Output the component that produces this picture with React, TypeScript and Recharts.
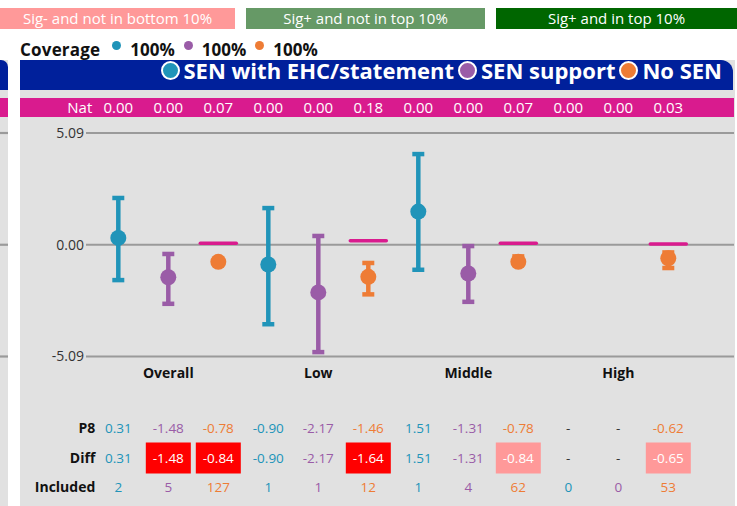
import React from 'react';
import { ComposedChart, Scatter, ErrorBar, XAxis, YAxis, CartesianGrid } from 'recharts';

// ---------- data ----------
const categories = ['Overall', 'Low', 'Middle', 'High'];
const seriesNames = ['SEN with EHC/statement', 'SEN support', 'No SEN'];
const seriesColors = ['#2094b9', '#9a5ca7', '#ee7c35'];
const coverage = ['100%', '100%', '100%'];
const bandLabels = ['Sig- and not in bottom 10%', 'Sig+ and not in top 10%', 'Sig+ and in top 10%'];
const bandColors = ['#ff9999', '#669966', '#006600'];
const yTicks = [-5.09, 0, 5.09];

const p8EHC = [0.31, -0.9, 1.51, null];
const p8Support = [-1.48, -2.17, -1.31, null];
const p8NoSEN = [-0.78, -1.46, -0.78, -0.62];

const diffEHC = [0.31, -0.9, 1.51, null];
const diffSupport = [-1.48, -2.17, -1.31, null];
const diffNoSEN = [-0.84, -1.64, -0.84, -0.65];

const lowEHC = [-1.61, -3.62, -1.14, null];
const highEHC = [2.13, 1.67, 4.13, null];
const lowSupport = [-2.69, -4.89, -2.6, null];
const highSupport = [-0.42, 0.4, -0.06, null];
const lowNoSEN = [-0.88, -2.26, -0.9, -1.06];
const highNoSEN = [-0.68, -0.83, -0.53, -0.35];

const includedEHC = [2, 1, 1, 0];
const includedSupport = [5, 1, 4, 0];
const includedNoSEN = [127, 12, 62, 53];

// 'red' = Sig- and in bottom 10%, 'pink' = Sig- and not in bottom 10%
const diffBandEHC = [null, null, null, null];
const diffBandSupport = ['red', null, null, null];
const diffBandNoSEN = ['red', 'red', 'pink', 'pink'];

const natValues = [0.0, 0.0, 0.07, 0.0, 0.0, 0.18, 0.0, 0.0, 0.07, 0.0, 0.0, 0.03];

// ---------- build table ----------
const p8s = [p8EHC, p8Support, p8NoSEN];
const diffs = [diffEHC, diffSupport, diffNoSEN];
const lows = [lowEHC, lowSupport, lowNoSEN];
const highs = [highEHC, highSupport, highNoSEN];
const includeds = [includedEHC, includedSupport, includedNoSEN];
const bands = [diffBandEHC, diffBandSupport, diffBandNoSEN];

type Row = {
  slot: number; group: number; series: number; p8: number | null; diff: number | null;
  lo: number | null; hi: number | null; included: number; nat: number; band: string | null;
};
const rows: Row[] = [];
categories.forEach((_, g) => {
  seriesNames.forEach((__, s) => {
    const slot = g * 3 + s;
    rows.push({
      slot, group: g, series: s,
      p8: p8s[s][g], diff: diffs[s][g], lo: lows[s][g], hi: highs[s][g],
      included: includeds[s][g], nat: natValues[slot], band: bands[s][g],
    });
  });
});

const FONT = '"Open Sans", "Noto Sans", sans-serif';
const PANEL_GRAY = '#e1e1e1';
const HEADER_BLUE = '#00209b';
const MAGENTA = '#d91b8e';
const ROW_Y = { nat: 107.5, cat: 373, p8: 428, diff: 458, incl: 487 };

const fmt = (v: number | null) => (v == null ? '-' : v.toFixed(2));

const SlotTick = (props: any) => {
  const { x, payload } = props;
  const r = rows[payload.value];
  if (!r) return null;
  const col = seriesColors[r.series];
  const bandFill = r.band === 'red' ? '#ff0000' : r.band === 'pink' ? '#ff9999' : null;
  const nullCol = '#333';
  return (
    <g fontFamily={FONT}>
      {r.slot === 0 && (
        <g>
          <text x={x - 26} y={ROW_Y.nat} dy="0.35em" textAnchor="end" fontSize={15} fill="#fff">Nat</text>
          <text x={x - 23} y={ROW_Y.p8} dy="0.35em" textAnchor="end" fontSize={14} fontWeight={700} fill="#111">P8</text>
          <text x={x - 23} y={ROW_Y.diff} dy="0.35em" textAnchor="end" fontSize={14} fontWeight={700} fill="#111">Diff</text>
          <text x={x - 23} y={ROW_Y.incl} dy="0.35em" textAnchor="end" fontSize={14} fontWeight={700} fill="#111">Included</text>
        </g>
      )}
      <text x={x} y={ROW_Y.nat} dy="0.35em" textAnchor="middle" fontSize={15} fill="#fff">{r.nat.toFixed(2)}</text>
      {r.series === 1 && (
        <text x={x} y={ROW_Y.cat} dy="0.35em" textAnchor="middle" fontSize={14} fontWeight={700} fill="#111">
          {categories[r.group]}
        </text>
      )}
      <text x={x} y={ROW_Y.p8} dy="0.35em" textAnchor="middle" fontSize={13.5} fill={r.p8 == null ? nullCol : col}>{fmt(r.p8)}</text>
      {bandFill && <rect x={x - 22.5} y={ROW_Y.diff - 15.5} width={45} height={31} fill={bandFill} />}
      <text x={x} y={ROW_Y.diff} dy="0.35em" textAnchor="middle" fontSize={13.5}
        fill={bandFill ? '#fff' : r.diff == null ? nullCol : col}>{fmt(r.diff)}</text>
      <text x={x} y={ROW_Y.incl} dy="0.35em" textAnchor="middle" fontSize={13.5} fill={col}>{r.included}</text>
    </g>
  );
};

const dotShape = (color: string) => (props: any) => (
  <circle cx={props.cx} cy={props.cy} r={8} fill={color} />
);

const natShape = (props: any) => (
  <line x1={props.cx - 18} x2={props.cx + 18} y1={props.cy} y2={props.cy}
    stroke={MAGENTA} strokeWidth={3.5} strokeLinecap="round" />
);

const natRows = rows.filter((r) => r.series === 2);

export default function App() {
  return (
    <div style={{ position: 'absolute', left: 0, top: 0, width: 737, height: 506, overflow: 'hidden', background: '#fff', fontFamily: FONT }}>
      {/* significance bands */}
      {bandLabels.map((lab, i) => {
        const lefts = [0, 246, 496];
        const widths = [235, 239, 241];
        return (
          <div key={lab} style={{ position: 'absolute', left: lefts[i], top: 8, width: widths[i], height: 21, background: bandColors[i], color: '#fff', fontSize: 15, lineHeight: '21px', textAlign: 'center' }}>
            {lab}
          </div>
        );
      })}
      {/* coverage */}
      <div style={{ position: 'absolute', left: 20, top: 40, height: 18, display: 'flex', alignItems: 'center', fontWeight: 700, fontSize: 17, lineHeight: '17px', color: '#111' }}>
        <span style={{ letterSpacing: 0.2 }}>Coverage</span>
        {coverage.map((c, i) => (
          <React.Fragment key={i}>
            <span style={{ display: 'inline-block', width: 9, height: 9, borderRadius: '50%', background: seriesColors[i], marginLeft: i === 0 ? 12 : 9, marginTop: -7 }} />
            <span style={{ marginLeft: 9 }}>{c}</span>
          </React.Fragment>
        ))}
      </div>
      {/* left cut-off panel */}
      <div style={{ position: 'absolute', left: 0, top: 60, width: 8, height: 446, background: PANEL_GRAY }} />
      <div style={{ position: 'absolute', left: 0, top: 60, width: 8, height: 30, background: HEADER_BLUE, borderTopRightRadius: 7 }} />
      <div style={{ position: 'absolute', left: 0, top: 98, width: 8, height: 19, background: MAGENTA }} />
      {/* main panel */}
      <div style={{ position: 'absolute', left: 20, top: 60, width: 715, height: 446, background: PANEL_GRAY }} />
      <div style={{ position: 'absolute', left: 20, top: 60, width: 713, height: 30, background: HEADER_BLUE, borderTopRightRadius: 12, display: 'flex', justifyContent: 'flex-end', alignItems: 'center', paddingRight: 11, paddingBottom: 9, boxSizing: 'border-box' }}>
        {seriesNames.map((n, i) => (
          <React.Fragment key={n}>
            <span style={{ display: 'inline-block', width: 15, height: 15, borderRadius: '50%', background: seriesColors[i], border: '2px solid #fff', marginLeft: i === 0 ? 0 : 4 }} />
            <span style={{ color: '#fff', fontWeight: 700, fontSize: 22, marginLeft: 4, lineHeight: '19px' }}>{n}</span>
          </React.Fragment>
        ))}
      </div>
      <div style={{ position: 'absolute', left: 20, top: 98, width: 714, height: 19, background: MAGENTA }} />
      {/* chart */}
      <div style={{ position: 'absolute', left: 0, top: 0 }}>
        <ComposedChart width={737} height={506} margin={{ top: 133, right: 3, bottom: 0, left: 0 }}>
          <CartesianGrid vertical={false} stroke="#9a9a9a" strokeWidth={2.2} />
          <CartesianGrid vertical={false} stroke="#9a9a9a" strokeWidth={2.2} x={0} width={8} />
          <XAxis type="number" dataKey="slot" domain={[-0.646, 12.314]} ticks={rows.map((r) => r.slot)}
            interval={0} axisLine={false} tickLine={false} height={149.5} tick={<SlotTick />} allowDataOverflow />
          <YAxis type="number" domain={[-5.09, 5.09]} ticks={yTicks} tickFormatter={(v: number) => v.toFixed(2)}
            axisLine={false} tickLine={false} tickSize={0} tickMargin={2} width={86} allowDataOverflow
            tick={{ fontSize: 14, fill: '#333', fontFamily: FONT }} />
          <Scatter data={natRows} dataKey="nat" shape={natShape} isAnimationActive={false} />
          {seriesNames.map((n, s) => (
            <Scatter key={n} name={n} data={rows.filter((r) => r.series === s && r.p8 != null)} dataKey="p8"
              fill={seriesColors[s]} shape={dotShape(seriesColors[s])} isAnimationActive={false}>
              <ErrorBar dataKey={(d: Row) => [(d.p8 as number) - (d.lo as number), (d.hi as number) - (d.p8 as number)]}
                direction="y" width={6} strokeWidth={4.5} stroke={seriesColors[s]} isAnimationActive={false} />
            </Scatter>
          ))}
        </ComposedChart>
      </div>
    </div>
  );
}
